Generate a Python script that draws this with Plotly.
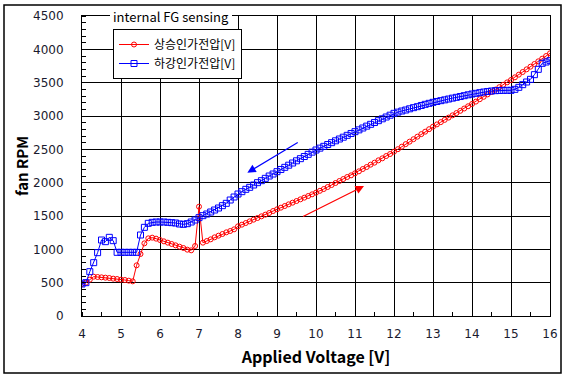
import plotly.graph_objects as go

# ---- data ----
volts = [round(4.0 + 0.1 * i, 1) for i in range(121)]

rising_rpm = [
    480, 500, 545, 590, 585, 580, 575, 570, 560, 555,      # 4.0-4.9
    545, 540, 530, 520, 760, 930, 1090, 1165, 1175, 1160,  # 5.0-5.9
    1140, 1120, 1100, 1080, 1060, 1040, 1020, 995, 985, 1050,  # 6.0-6.9
    1640, 1100, 1125, 1150, 1180, 1205, 1230, 1255, 1275, 1300,  # 7.0-7.9
    1345, 1370, 1395, 1420, 1445, 1470, 1495, 1520, 1545, 1575,  # 8.0-8.9
    1600, 1625, 1650, 1675, 1700, 1725, 1750, 1775, 1800, 1825,  # 9.0-9.9
    1850, 1878, 1905, 1935, 1965, 1995, 2025, 2055, 2085, 2110,  # 10.0-10.9
    2140, 2170, 2205, 2235, 2270, 2300, 2335, 2365, 2400, 2430,  # 11.0-11.9
    2465, 2502, 2540, 2578, 2615, 2652, 2690, 2728, 2765, 2802,  # 12.0-12.9
    2840, 2874, 2908, 2942, 2976, 3010, 3044, 3078, 3112, 3146,  # 13.0-13.9
    3180, 3216, 3252, 3288, 3324, 3360, 3396, 3432, 3468, 3504,  # 14.0-14.9
    3540, 3580, 3620, 3660, 3700, 3740, 3780, 3820, 3860, 3900,  # 15.0-15.9
    3940,                                                   # 16.0
]

falling_rpm = [
    480, 500, 665, 800, 950, 1140, 1115, 1180, 1130, 955,   # 4.0-4.9
    955, 955, 955, 955, 955, 1215, 1330, 1390, 1405, 1410,  # 5.0-5.9
    1410, 1410, 1405, 1400, 1395, 1380, 1375, 1385, 1410, 1440,  # 6.0-6.9
    1475, 1505, 1530, 1560, 1590, 1620, 1655, 1690, 1740, 1785,  # 7.0-7.9
    1830, 1865, 1900, 1930, 1965, 2000, 2030, 2065, 2100, 2130,  # 8.0-8.9
    2165, 2198, 2230, 2262, 2295, 2328, 2360, 2392, 2425, 2458,  # 9.0-9.9
    2490, 2518, 2545, 2572, 2600, 2628, 2655, 2682, 2710, 2738,  # 10.0-10.9
    2765, 2792, 2820, 2848, 2875, 2902, 2930, 2958, 2985, 3012,  # 11.0-11.9
    3040, 3058, 3075, 3090, 3108, 3125, 3140, 3158, 3175, 3190,  # 12.0-12.9
    3205, 3218, 3230, 3242, 3255, 3268, 3280, 3292, 3305, 3318,  # 13.0-13.9
    3330, 3340, 3350, 3360, 3368, 3375, 3380, 3382, 3384, 3385,  # 14.0-14.9
    3385, 3400, 3430, 3470, 3510, 3550, 3620, 3700, 3790, 3810,  # 15.0-15.9
    3830,                                                   # 16.0
]

x_ticks = list(range(4, 17))
y_ticks = list(range(0, 4501, 500))

rising_name = "상승인가전압[V]"
falling_name = "하강인가전압[V]"
title_text = "internal FG sensing"

# arrow endpoints (tail -> head) in data units
falling_arrow = dict(tail=(9.57, 2615), head=(8.24, 2150))
rising_arrow = dict(tail=(9.63, 1480), head=(11.23, 1950))

FONT = "Noto Sans CJK KR"
TICK_FONT = "DejaVu Sans"

fig = go.Figure()
fig.add_trace(go.Scatter(
    x=volts, y=rising_rpm, name=rising_name, mode="lines+markers",
    line=dict(color="#ff0000", width=1),
    marker=dict(symbol="circle-open", size=5, color="#ff0000", line=dict(width=1)),
))
fig.add_trace(go.Scatter(
    x=volts, y=falling_rpm, name=falling_name, mode="lines+markers",
    line=dict(color="#0000ff", width=1),
    marker=dict(symbol="square-open", size=6, color="#0000ff", line=dict(width=1)),
))

W, H = 568, 380
L, T = 82, 16
R = W - 550
B = H - 316
pw, ph = W - L - R, H - T - B

def px(xp):
    return (xp - L) / pw

def py(yp):
    return (H - B - yp) / ph

fig.update_layout(
    width=W, height=H,
    margin=dict(l=L, r=R, t=T, b=B, pad=0),
    paper_bgcolor="white", plot_bgcolor="white",
    font=dict(family=FONT, size=13, color="#1a1a2e"),
    showlegend=True,
    legend=dict(
        x=px(113), y=py(29), xanchor="left", yanchor="top",
        bgcolor="white", bordercolor="black", borderwidth=1,
        font=dict(family=FONT, size=12, color="black"),
        itemwidth=30, tracegroupgap=0,
    ),
    xaxis=dict(
        range=[4, 16], tickvals=x_ticks, ticktext=[str(v) for v in x_ticks],
        showgrid=True, gridcolor="black", gridwidth=1,
        showline=True, linecolor="black", linewidth=1, mirror=True,
        ticks="", zeroline=False, automargin=False,
        minor=dict(dtick=0.5, ticks="inside", ticklen=4, tickcolor="black", showgrid=False),
        title=dict(text="Applied Voltage [V]", font=dict(family=FONT, size=16, color="black", weight="bold"), standoff=11),
        tickfont=dict(family=TICK_FONT, size=12, color="#1a1a2e"),
        ticklabelstandoff=7, ticklabeloverflow="allow",
    ),
    yaxis=dict(
        range=[0, 4500], tickvals=y_ticks, ticktext=[str(v) for v in y_ticks],
        showgrid=True, gridcolor="black", gridwidth=1,
        showline=True, linecolor="black", linewidth=1, mirror=True,
        ticks="", zeroline=False, automargin=False,
        minor=dict(dtick=100, ticks="inside", ticklen=4, tickcolor="black", showgrid=False),
        title=dict(text="fan RPM", font=dict(family=FONT, size=15, color="black", weight="bold"), standoff=0),
        tickfont=dict(family=TICK_FONT, size=12, color="#1a1a2e"),
        ticklabelstandoff=15, ticklabeloverflow="allow",
    ),
    shapes=[
        dict(type="rect", xref="paper", yref="paper",
             x0=px(4), x1=px(561), y0=py(373), y1=py(5),
             line=dict(color="black", width=1.5), fillcolor="rgba(0,0,0,0)", layer="above"),
        dict(type="rect", xref="paper", yref="paper",
             x0=px(110), x1=px(232), y0=py(31), y1=py(9),
             line=dict(width=0), fillcolor="white", layer="above"),
    ],
    annotations=[
        dict(text=title_text, xref="paper", yref="paper", x=px(171), y=py(17),
             xanchor="center", yanchor="middle", showarrow=False,
             font=dict(family=FONT, size=13, color="black")),
        dict(x=falling_arrow["head"][0], y=falling_arrow["head"][1],
             ax=falling_arrow["tail"][0], ay=falling_arrow["tail"][1],
             xref="x", yref="y", axref="x", ayref="y", text="",
             showarrow=True, arrowhead=2, arrowsize=1.4, arrowwidth=1.2, arrowcolor="#0000ff"),
        dict(x=rising_arrow["head"][0], y=rising_arrow["head"][1],
             ax=rising_arrow["tail"][0], ay=rising_arrow["tail"][1],
             xref="x", yref="y", axref="x", ayref="y", text="",
             showarrow=True, arrowhead=2, arrowsize=1.4, arrowwidth=1.2, arrowcolor="#ff0000"),
    ],
)

# remove the page's default body margin so the 568x380 figure fills the window
fig.write_html("out.html", config={"displayModeBar": False},
               post_script="document.body.style.margin='0';")
